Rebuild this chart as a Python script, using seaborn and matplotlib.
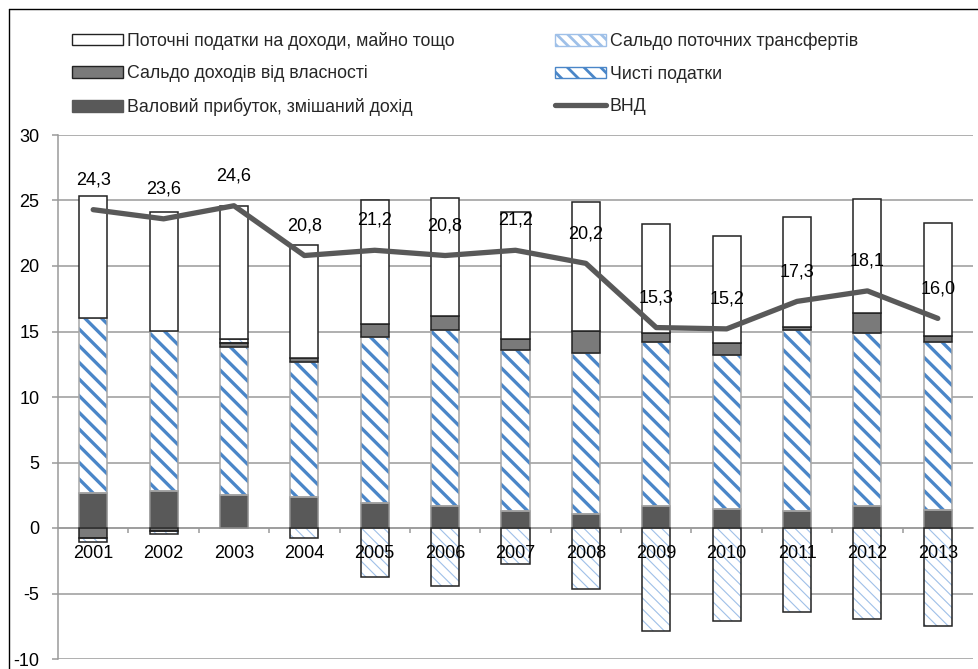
import numpy as np
import pandas as pd
import matplotlib
matplotlib.use("Agg")
import matplotlib.pyplot as plt
from matplotlib.patches import Patch
from matplotlib.lines import Line2D
import seaborn as sns

# data, % of GDP (stack order from the axis outwards)
years = [str(y) for y in range(2001, 2014)]
gross_profit = [2.7, 2.8, 2.5, 2.35, 1.9, 1.65, 1.3, 1.05, 1.65, 1.45, 1.3, 1.7, 1.4]
net_taxes = [13.3, 12.25, 11.35, 10.3, 12.7, 13.45, 12.3, 12.3, 12.55, 11.75, 13.8, 13.2, 12.8]
property_income = [-0.75, -0.25, 0.25, 0.3, 1.0, 1.1, 0.8, 1.7, 0.65, 0.95, 0.25, 1.5, 0.45]
transfers = [-0.3, -0.2, 0.35, -0.75, -3.75, -4.4, -2.75, -4.65, -7.9, -7.1, -6.45, -6.95, -7.45]
current_taxes = [9.35, 9.05, 10.15, 8.65, 9.4, 9.0, 9.7, 9.8, 8.35, 8.15, 8.4, 8.7, 8.65]
gni = [24.3, 23.6, 24.6, 20.8, 21.2, 20.8, 21.2, 20.2, 15.3, 15.2, 17.3, 18.1, 16.0]

lbl_current = "Поточні податки на доходи, майно тощо"
lbl_property = "Сальдо доходів від власності"
lbl_gross = "Валовий прибуток, змішаний дохід"
lbl_transfers = "Сальдо поточних трансфертів"
lbl_taxes = "Чисті податки"
lbl_gni = "ВНД"

sns.set_theme(style="white")
plt.rcParams['font.family'] = ['Liberation Sans', 'DejaVu Sans']
plt.rcParams['axes.unicode_minus'] = False

W, H = 979, 669
fig = plt.figure(figsize=(W / 100, H / 100), dpi=100)
ax = fig.add_axes([58 / W, 1 - 659 / H, (973 - 58) / W, (659 - 135) / H])

grid_c = '#9a9a9a'
blue = '#4a86c8'
pale_blue = '#9fc0e8'
n = len(years)

# per layer: values, fill colour, edge colour, hatch, hatch colour, hatch width
layers = [
    (gross_profit, '#595959', '#8c8c8c', None, None, 1.0),
    (net_taxes, 'white', '#a6a6a6', '\\\\', blue, 2.4),
    (property_income, '#7a7a7a', '#222222', None, None, 1.0),
    (transfers, 'white', '#222222', '\\\\\\', pale_blue, 0.8),
    (current_taxes, 'white', '#222222', None, None, 1.0),
]

pos_bottom = np.zeros(n)
neg_bottom = np.zeros(n)
for vals, fc, ec, hatch, hc, hlw in layers:
    v = np.array(vals, dtype=float)
    bottom = np.where(v >= 0, pos_bottom, neg_bottom)
    df = pd.DataFrame({"year": years, "value": v})
    if hatch:
        plt.rcParams['hatch.linewidth'] = hlw
        sns.barplot(data=df, x="year", y="value", bottom=bottom, color=fc,
                    saturation=1, width=0.4, errorbar=None, hatch=hatch,
                    edgecolor=hc, linewidth=0, ax=ax, zorder=2)
        sns.barplot(data=df, x="year", y="value", bottom=bottom, color=ec,
                    fill=False, saturation=1, width=0.4, errorbar=None,
                    edgecolor=ec, linewidth=1.1, ax=ax, zorder=3)
    else:
        sns.barplot(data=df, x="year", y="value", bottom=bottom, color=fc,
                    saturation=1, width=0.4, errorbar=None,
                    edgecolor=ec, linewidth=1.1, ax=ax, zorder=3)
    pos_bottom += np.clip(v, 0, None)
    neg_bottom += np.clip(v, None, 0)

xs = np.arange(n)
sns.lineplot(x=xs, y=gni, color='#595959', linewidth=3.8, ax=ax,
             legend=False, zorder=4, solid_capstyle='round')
for x, val in zip(xs, gni):
    ax.annotate(f"{val:.1f}".replace('.', ','), (x, val), xytext=(0, 21.5),
                textcoords='offset points', ha='center', va='center',
                fontsize=13, color='black', zorder=5)

ax.set_xlim(-0.5, n - 0.5)
ax.set_ylim(-10, 30)
ax.set_yticks(np.arange(-10, 31, 5))
ax.set_xlabel("")
ax.set_ylabel("")
ax.yaxis.grid(True, color=grid_c, linewidth=1.1)
ax.set_axisbelow(True)
ax.xaxis.set_zorder(6)  # year labels sit on top of the bars
for s in ['top', 'right']:
    ax.spines[s].set_visible(False)
ax.spines['left'].set_color(grid_c)
ax.spines['left'].set_linewidth(1.1)
ax.spines['bottom'].set_position(('data', 0))
ax.spines['bottom'].set_color(grid_c)
ax.spines['bottom'].set_linewidth(1.1)
ax.spines['bottom'].set_zorder(1)

ax.tick_params(axis='y', which='major', left=True, length=4.3, width=1.1,
               color=grid_c, pad=9, labelsize=13, labelcolor='black')
ax.set_xticks(xs)
ax.set_xticklabels(years)
ax.set_xticks(np.arange(0.5, n - 1, 1), minor=True)
ax.tick_params(axis='x', which='major', bottom=True, length=0, pad=12,
               labelsize=13, labelcolor='black')
ax.tick_params(axis='x', which='minor', bottom=True, length=3.8, width=1.1,
               color=grid_c, direction='out')

# legend in two columns above the plot
def box(fc, ec, hatch=None):
    return Patch(facecolor=fc, edgecolor=ec, hatch=hatch, linewidth=1.0)

plt.rcParams['hatch.linewidth'] = 2.0
h_left = [box('white', '#222222'), box('#7a7a7a', '#222222'), box('#595959', '#595959')]
h_right = [box('white', pale_blue, '\\\\\\'), box('white', blue, '\\\\'),
           Line2D([], [], color='#595959', linewidth=3.8, solid_capstyle='round')]
leg_kw = dict(frameon=False, fontsize=12.8, handlelength=2.87, handleheight=0.62,
              handletextpad=0.2, labelspacing=0.87, borderpad=0, borderaxespad=0,
              loc='center left')
fig.legend(h_left, [lbl_current, lbl_property, lbl_gross],
           bbox_to_anchor=(72 / W, 1 - 74 / H), **leg_kw)
fig.legend(h_right, [lbl_transfers, lbl_taxes, lbl_gni],
           bbox_to_anchor=(555 / W, 1 - 74 / H), **leg_kw)

# outer frame (left and top edges visible)
fig.add_artist(Line2D([9 / W, 9 / W], [0, 1 - 9 / H], color='black', linewidth=1.0))
fig.add_artist(Line2D([9 / W, 1], [1 - 9 / H, 1 - 9 / H], color='black', linewidth=1.0))

fig.savefig("out.png", dpi=100)
